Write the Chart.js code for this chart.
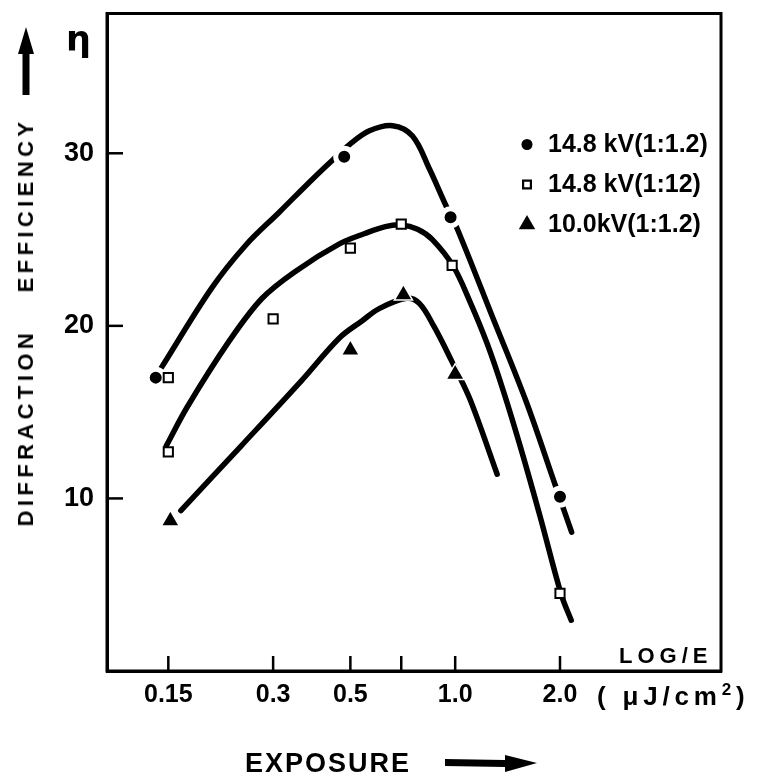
<!DOCTYPE html>
<html>
<head>
<meta charset="utf-8">
<script src="https://cdn.jsdelivr.net/npm/chart.js@4.4.1/dist/chart.umd.min.js"></script>
<style>
  html, body { margin: 0; padding: 0; background: #fff; }
  #wrap { position: relative; width: 757px; height: 783px; overflow: hidden; }
  canvas { position: absolute; left: 0; top: 0; }
  .t { position: absolute; color: #000; font-family: "Liberation Sans", Arial, sans-serif; font-weight: bold; white-space: nowrap; line-height: 1; }
</style>
</head>
<body>
<div id="wrap">
  <canvas id="c" width="757" height="783"></canvas>
  <div class="t" id="eta" style="left:66px; top:22px; font-size:35px; font-family:'DejaVu Sans', sans-serif;">η</div>
  <div class="t" id="ytitle" style="left:26px; top:322px; font-size:22px; letter-spacing:4.4px; word-spacing:26px; transform: translate(-50%, -50%) rotate(-90deg);">DIFFRACTION EFFICIENCY</div>
  <div class="t" id="xtitle" style="left:245px; top:750px; font-size:27px; letter-spacing:2px;">EXPOSURE</div>
  <div class="t" id="units" style="left:597px; top:681px; font-size:26px; letter-spacing:4.8px;">(&nbsp;μJ/cm<sup style="font-size:17px; vertical-align: 10px;">2</sup>)</div>
  <div class="t" id="loge" style="left:619px; top:645px; font-size:22px; letter-spacing:5px;">LOG/E</div>
  <div class="t leg" id="leg0" style="left:548px; top:131px; font-size:25px;"></div>
  <div class="t leg" id="leg1" style="left:548px; top:171px; font-size:25px;"></div>
  <div class="t leg" id="leg2" style="left:548px; top:211px; font-size:25px;"></div>
</div>
<script>
// ---------- data ----------
const seriesNames = ['14.8 kV(1:1.2)', '14.8 kV(1:12)', '10.0kV(1:1.2)'];

const xTickValues = [0.15, 0.3, 0.5, 0.7, 1.0, 2.0];
const xTickLabels = ['0.15', '0.3', '0.5', '', '1.0', '2.0'];
const yTickValues = [10, 20, 30];
const yTickLabels = ['10', '20', '30'];

// measured points
const dotsX = [0.138, 0.48, 0.97, 2.0];
const dotsY = [17.0, 29.8, 26.3, 10.1];
const squaresX = [0.15, 0.15, 0.30, 0.50, 0.70, 0.98, 2.0];
const squaresY = [17.0, 12.7, 20.4, 24.5, 25.9, 23.5, 4.5];
const trianglesX = [0.152, 0.50, 0.71, 1.0];
const trianglesY = [8.7, 18.6, 21.8, 17.2];

// hand-drawn fitted curves, sampled along the drawn lines
const curve1X = [0.143, 0.200, 0.251, 0.313, 0.389, 0.444, 0.497, 0.567, 0.661, 0.754, 0.843, 0.944, 1.015, 1.275, 1.60, 1.94, 2.16];
const curve1Y = [17.55, 22.2, 24.7, 26.6, 28.5, 29.6, 30.5, 31.3, 31.6, 31.0, 29.1, 26.9, 25.6, 20.6, 15.6, 10.75, 8.05];
const curve2X = [0.148, 0.170, 0.224, 0.279, 0.350, 0.465, 0.550, 0.630, 0.700, 0.780, 0.860, 0.987, 1.104, 1.236, 1.374, 1.537, 1.755, 2.016, 2.154];
const curve2Y = [13.05, 15.3, 19.1, 21.6, 23.2, 24.75, 25.35, 25.75, 25.85, 25.6, 25.0, 23.46, 21.38, 18.96, 16.25, 13.03, 8.93, 4.44, 2.94];
const curve3X = [0.163, 0.243, 0.361, 0.465, 0.541, 0.605, 0.724, 0.789, 0.870, 0.975, 1.10, 1.32];
const curve3Y = [9.3, 13.05, 16.8, 19.3, 20.3, 21.0, 21.6, 21.3, 19.95, 18.0, 15.8, 11.4];

// ---------- build ----------
const pts = (xs, ys) => xs.map((x, i) => ({ x: x, y: ys[i] }));
const FONT = '"Liberation Sans", Arial, sans-serif';

const lineDs = (xs, ys) => ({
  data: pts(xs, ys), showLine: true, borderColor: '#000', borderWidth: 5.5,
  pointRadius: 0, tension: 0.35, borderCapStyle: 'round', order: 3
});

const markerStyles = [
  { pointStyle: 'circle', pointRadius: 8.5, pointBackgroundColor: '#000', pointBorderColor: '#fff', pointBorderWidth: 5, order: 2 },
  { pointStyle: 'rect', pointRadius: 6.5, pointBackgroundColor: '#fff', pointBorderColor: '#000', pointBorderWidth: 2, order: 1 },
  { pointStyle: 'triangle', pointRadius: 10.5, pointBackgroundColor: '#000', pointBorderColor: '#fff', pointBorderWidth: 1.5, order: 2 }
];
const legendMarkers = [
  { pointStyle: 'circle', radius: 5.5, fill: '#000', stroke: '#000', lw: 0 },
  { pointStyle: 'rect', radius: 5.5, fill: '#fff', stroke: '#000', lw: 2.2 },
  { pointStyle: 'triangle', radius: 9.5, fill: '#000', stroke: '#000', lw: 0 }
];

const markerDs = (xs, ys, k) => Object.assign({ label: seriesNames[k], data: pts(xs, ys), showLine: false }, markerStyles[k]);

seriesNames.forEach((n, i) => { document.getElementById('leg' + i).textContent = n; });

const framePlugin = {
  id: 'frame',
  afterDraw(chart) {
    const { ctx, chartArea: a, scales } = chart;
    ctx.save();
    ctx.strokeStyle = '#000';
    ctx.lineWidth = 3;
    ctx.strokeRect(a.left, a.top, a.right - a.left, a.bottom - a.top);
    // inward tick marks
    ctx.lineWidth = 2.5;
    scales.x.ticks.forEach(t => {
      const px = scales.x.getPixelForValue(t.value);
      ctx.beginPath(); ctx.moveTo(px, a.bottom); ctx.lineTo(px, a.bottom - 15); ctx.stroke();
    });
    scales.y.ticks.forEach(t => {
      const py = scales.y.getPixelForValue(t.value);
      ctx.beginPath(); ctx.moveTo(a.left, py); ctx.lineTo(a.left + 16, py); ctx.stroke();
    });
    // legend markers
    legendMarkers.forEach((m, i) => {
      const el = document.getElementById('leg' + i);
      const cy = el.offsetTop + el.offsetHeight / 2 + 1;
      const cx = el.offsetLeft - 21;
      ctx.fillStyle = m.fill; ctx.strokeStyle = m.stroke; ctx.lineWidth = m.lw;
      Chart.helpers.drawPoint(ctx, { pointStyle: m.pointStyle, radius: m.radius, borderWidth: m.lw, rotation: 0 }, cx, cy);
    });
    // arrows beside axis titles
    ctx.fillStyle = '#000';
    ctx.beginPath();
    ctx.moveTo(26, 27); ctx.lineTo(34, 54); ctx.lineTo(29.5, 54); ctx.lineTo(29.5, 95);
    ctx.lineTo(22.5, 95); ctx.lineTo(22.5, 54); ctx.lineTo(18, 54); ctx.closePath(); ctx.fill();
    ctx.beginPath();
    ctx.moveTo(445, 759); ctx.lineTo(505, 760); ctx.lineTo(505, 755); ctx.lineTo(537, 763);
    ctx.lineTo(505, 772); ctx.lineTo(505, 767); ctx.lineTo(445, 766); ctx.closePath(); ctx.fill();
    ctx.restore();
  }
};

new Chart(document.getElementById('c'), {
  type: 'scatter',
  data: {
    datasets: [
      markerDs(dotsX, dotsY, 0),
      markerDs(squaresX, squaresY, 1),
      markerDs(trianglesX, trianglesY, 2),
      lineDs(curve1X, curve1Y),
      lineDs(curve2X, curve2Y),
      lineDs(curve3X, curve3Y)
    ]
  },
  options: {
    responsive: false,
    animation: false,
    events: [],
    layout: { padding: { left: 0, top: 10, right: 36, bottom: 0 } },
    plugins: { legend: { display: false }, tooltip: { enabled: false } },
    scales: {
      x: {
        type: 'logarithmic', min: 0.1, max: 5.8,
        afterBuildTicks: s => { s.ticks = xTickValues.map(v => ({ value: v })); },
        afterFit: s => { s.height = 112; s.paddingLeft = 0; s.paddingRight = 0; },
        ticks: {
          autoSkip: false, maxRotation: 0, padding: 9, color: '#000',
          font: { family: FONT, size: 25, weight: 'bold' },
          callback: (v, i) => xTickLabels[i]
        },
        grid: { display: false, drawTicks: false },
        border: { display: true, color: '#000', width: 3 }
      },
      y: {
        min: 0, max: 38.1,
        afterBuildTicks: s => { s.ticks = yTickValues.map(v => ({ value: v })); },
        afterFit: s => { s.width = 107; s.paddingTop = 0; s.paddingBottom = 0; },
        ticks: {
          padding: 13, color: '#000',
          font: { family: FONT, size: 27, weight: 'bold' },
          callback: (v, i) => yTickLabels[i]
        },
        grid: { display: false, drawTicks: false },
        border: { display: true, color: '#000', width: 3 }
      }
    }
  },
  plugins: [framePlugin]
});
</script>
</body>
</html>
